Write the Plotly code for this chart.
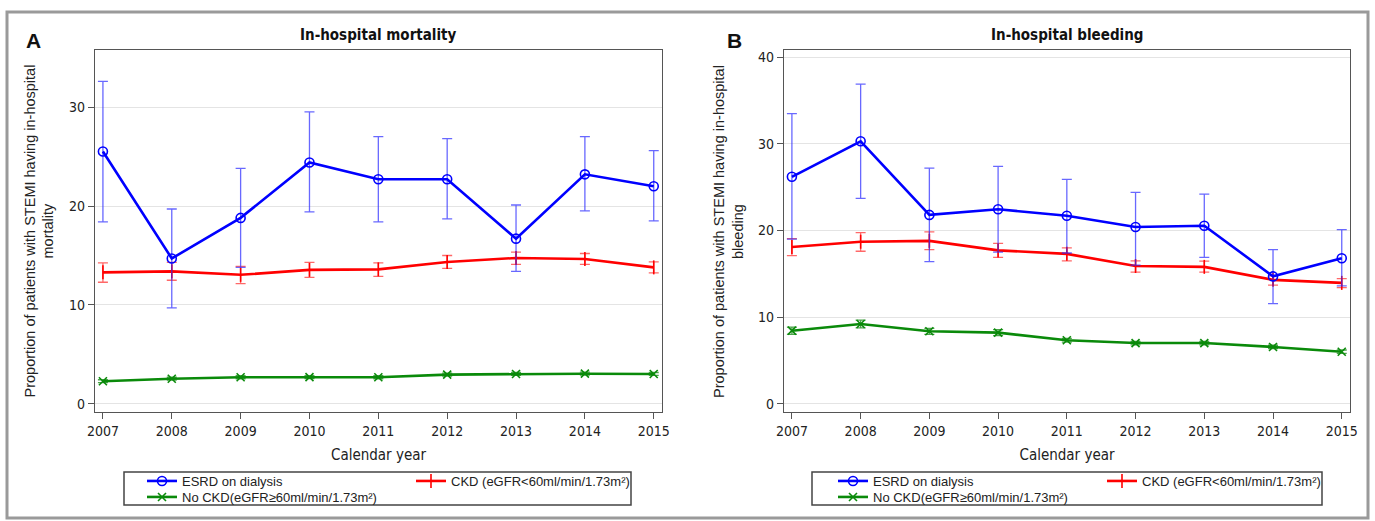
import plotly.graph_objects as go

years = [2007, 2008, 2009, 2010, 2011, 2012, 2013, 2014, 2015]
year_ticks = ["2007", "2008", "2009", "2010", "2011", "2012", "2013", "2014", "2015"]

series_names = ["ESRD on dialysis", "CKD (eGFR<60ml/min/1.73m²)", "No CKD(eGFR≥60ml/min/1.73m²)"]

# Panel A: in-hospital mortality (%)
mort_esrd = [25.5, 14.7, 18.8, 24.4, 22.7, 22.7, 16.7, 23.2, 22.0]
mort_esrd_lo = [18.4, 9.7, 13.8, 19.4, 18.4, 18.7, 13.4, 19.5, 18.5]
mort_esrd_hi = [32.6, 19.7, 23.8, 29.5, 27.0, 26.8, 20.1, 27.0, 25.6]
mort_ckd = [13.3, 13.4, 13.05, 13.55, 13.6, 14.35, 14.75, 14.65, 13.8]
mort_ckd_lo = [12.3, 12.5, 12.15, 12.8, 12.9, 13.7, 14.1, 14.1, 13.25]
mort_ckd_hi = [14.25, 14.3, 13.9, 14.3, 14.25, 15.0, 15.35, 15.2, 14.35]
mort_nockd = [2.3, 2.55, 2.7, 2.72, 2.7, 2.97, 3.03, 3.06, 3.03]
mort_nockd_lo = [2.15, 2.4, 2.55, 2.57, 2.55, 2.82, 2.88, 2.91, 2.88]
mort_nockd_hi = [2.45, 2.7, 2.85, 2.87, 2.85, 3.12, 3.18, 3.21, 3.18]

# Panel B: in-hospital bleeding (%)
bleed_esrd = [26.2, 30.3, 21.8, 22.45, 21.7, 20.4, 20.55, 14.7, 16.8]
bleed_esrd_lo = [19.0, 23.7, 16.4, 17.5, 17.4, 16.0, 16.9, 11.55, 13.6]
bleed_esrd_hi = [33.5, 36.9, 27.2, 27.4, 25.9, 24.4, 24.2, 17.8, 20.1]
bleed_ckd = [18.1, 18.7, 18.8, 17.7, 17.3, 15.9, 15.8, 14.3, 13.95]
bleed_ckd_lo = [17.1, 17.6, 17.8, 16.9, 16.5, 15.2, 15.2, 13.7, 13.4]
bleed_ckd_hi = [19.05, 19.75, 19.85, 18.5, 18.0, 16.5, 16.45, 14.75, 14.45]
bleed_nockd = [8.43, 9.2, 8.36, 8.2, 7.32, 7.0, 7.0, 6.55, 6.0]
bleed_nockd_lo = [8.0, 8.75, 8.0, 7.85, 7.1, 6.8, 6.8, 6.35, 5.8]
bleed_nockd_hi = [8.85, 9.65, 8.7, 8.55, 7.55, 7.2, 7.2, 6.75, 6.2]

W, H = 1375, 521
NARROW = "Liberation Sans Narrow, Arial Narrow, DejaVu Sans Condensed, Liberation Sans, sans-serif"
SANS = "Liberation Sans, Arial, sans-serif"

def px(x):
    return x / W

def py(y):
    return 1 - y / H

styles = {
    "esrd": dict(color="#0000ff", err="rgba(40,40,255,0.7)", symbol="circle-open", size=9),
    "ckd": dict(color="#ff0000", err="rgba(255,40,40,0.7)", symbol="line-ns", size=10),
    "nockd": dict(color="#0a8a0a", err="rgba(30,140,30,0.8)", symbol="x-thin", size=8),
}

fig = go.Figure()

def add_series(key, name, y, lo, hi, xa, ya, legend, rank):
    s = styles[key]
    fig.add_trace(go.Scatter(
        x=years, y=y, name=name, mode="lines+markers",
        xaxis=xa, yaxis=ya, legend=legend, legendrank=rank,
        line=dict(color=s["color"], width=2.6),
        marker=dict(symbol=s["symbol"], size=s["size"], color=s["color"],
                    line=dict(color=s["color"], width=1.6)),
        error_y=dict(type="data", symmetric=False,
                     array=[h - v for h, v in zip(hi, y)],
                     arrayminus=[v - l for v, l in zip(y, lo)],
                     color=s["err"], thickness=1.3, width=5),
    ))

# Panel A
add_series("nockd", series_names[2], mort_nockd, mort_nockd_lo, mort_nockd_hi, "x", "y", "legend2", 3)
add_series("ckd", series_names[1], mort_ckd, mort_ckd_lo, mort_ckd_hi, "x", "y", "legend", 2)
add_series("esrd", series_names[0], mort_esrd, mort_esrd_lo, mort_esrd_hi, "x", "y", "legend", 1)
# Panel B
add_series("nockd", series_names[2], bleed_nockd, bleed_nockd_lo, bleed_nockd_hi, "x2", "y2", "legend4", 3)
add_series("ckd", series_names[1], bleed_ckd, bleed_ckd_lo, bleed_ckd_hi, "x2", "y2", "legend3", 2)
add_series("esrd", series_names[0], bleed_esrd, bleed_esrd_lo, bleed_esrd_hi, "x2", "y2", "legend3", 1)

axis_line = "#555555"
xcommon = dict(
    tickmode="array", tickvals=years, ticktext=year_ticks,
    range=[2006.885, 2015.12], showgrid=False, zeroline=False,
    showline=True, linecolor=axis_line, linewidth=1.3, mirror=True,
    ticks="outside", ticklen=6, tickcolor=axis_line, tickwidth=1.2,
    tickfont=dict(family=NARROW, size=14, color="#222"),
    title=dict(text="Calendar year", font=dict(family=NARROW, size=15, color="#222"), standoff=11),
    automargin=False,
)
ycommon = dict(
    dtick=10, tick0=0, showgrid=True, gridcolor="#e4e4e4", gridwidth=1,
    zeroline=False, showline=True, linecolor=axis_line, linewidth=1.3, mirror=True,
    ticks="outside", ticklen=6, tickcolor=axis_line, tickwidth=1.2,
    tickfont=dict(family=NARROW, size=14, color="#222"), automargin=False,
)

yd = [py(412), py(50)]
fig.update_layout(
    width=W, height=H,
    margin=dict(l=0, r=0, t=0, b=0),
    paper_bgcolor="white", plot_bgcolor="white",
    xaxis=dict(domain=[px(95), px(662)], anchor="y", **xcommon),
    yaxis=dict(domain=yd, anchor="x", range=[-0.81, 35.76], **ycommon),
    xaxis2=dict(domain=[px(784), px(1350)], anchor="y2", **xcommon),
    yaxis2=dict(domain=yd, anchor="x2", range=[-0.96, 40.84], **ycommon),
    showlegend=True,
)

leg_common = dict(orientation="h", xanchor="left", yanchor="middle",
                  bgcolor="rgba(0,0,0,0)", borderwidth=0,
                  font=dict(family=SANS, size=13, color="#222"),
                  itemwidth=30, entrywidth=224, entrywidthmode="pixels")
fig.update_layout(
    legend=dict(x=px(142), y=py(481), **leg_common),
    legend2=dict(x=px(142), y=py(497), **leg_common),
    legend3=dict(x=px(833), y=py(481), **leg_common),
    legend4=dict(x=px(833), y=py(497), **leg_common),
)

shapes = [
    # outer figure frame
    dict(type="rect", xref="paper", yref="paper", x0=px(7), x1=px(1368), y0=py(518), y1=py(12),
         line=dict(color="#9a9a9a", width=3), fillcolor="rgba(0,0,0,0)", layer="below"),
    # legend boxes
    dict(type="rect", xref="paper", yref="paper", x0=px(124), x1=px(631), y0=py(505), y1=py(472),
         line=dict(color="#444", width=1.5), fillcolor="rgba(0,0,0,0)"),
    dict(type="rect", xref="paper", yref="paper", x0=px(812), x1=px(1322), y0=py(505), y1=py(472),
         line=dict(color="#444", width=1.5), fillcolor="rgba(0,0,0,0)"),
]
fig.update_layout(shapes=shapes)

annotations = [
    dict(text="<b>A</b>", x=px(33), y=py(40), xref="paper", yref="paper", showarrow=False,
         font=dict(family=SANS, size=21, color="#111"), xanchor="center", yanchor="middle"),
    dict(text="<b>B</b>", x=px(734), y=py(40), xref="paper", yref="paper", showarrow=False,
         font=dict(family=SANS, size=21, color="#111"), xanchor="center", yanchor="middle"),
    dict(text="<b>In-hospital mortality</b>", x=px(378.5), y=py(35), xref="paper", yref="paper",
         showarrow=False, font=dict(family=NARROW, size=15, color="#111"), xanchor="center", yanchor="middle"),
    dict(text="<b>In-hospital bleeding</b>", x=px(1067), y=py(35), xref="paper", yref="paper",
         showarrow=False, font=dict(family=NARROW, size=15, color="#111"), xanchor="center", yanchor="middle"),
    dict(text="Proportion of patients with STEMI having in-hospital<br>mortality", x=px(38.5), y=py(231),
         xref="paper", yref="paper", showarrow=False, textangle=-90,
         font=dict(family=SANS, size=14.5, color="#222"), xanchor="center", yanchor="middle"),
    dict(text="Proportion of patients with STEMI having in-hospital<br>bleeding", x=px(728), y=py(231),
         xref="paper", yref="paper", showarrow=False, textangle=-90,
         font=dict(family=SANS, size=14.5, color="#222"), xanchor="center", yanchor="middle"),
]
fig.update_layout(annotations=annotations)

fig.write_html("out.html", config={"displayModeBar": False},
               post_script="document.body.style.margin='0px';")
